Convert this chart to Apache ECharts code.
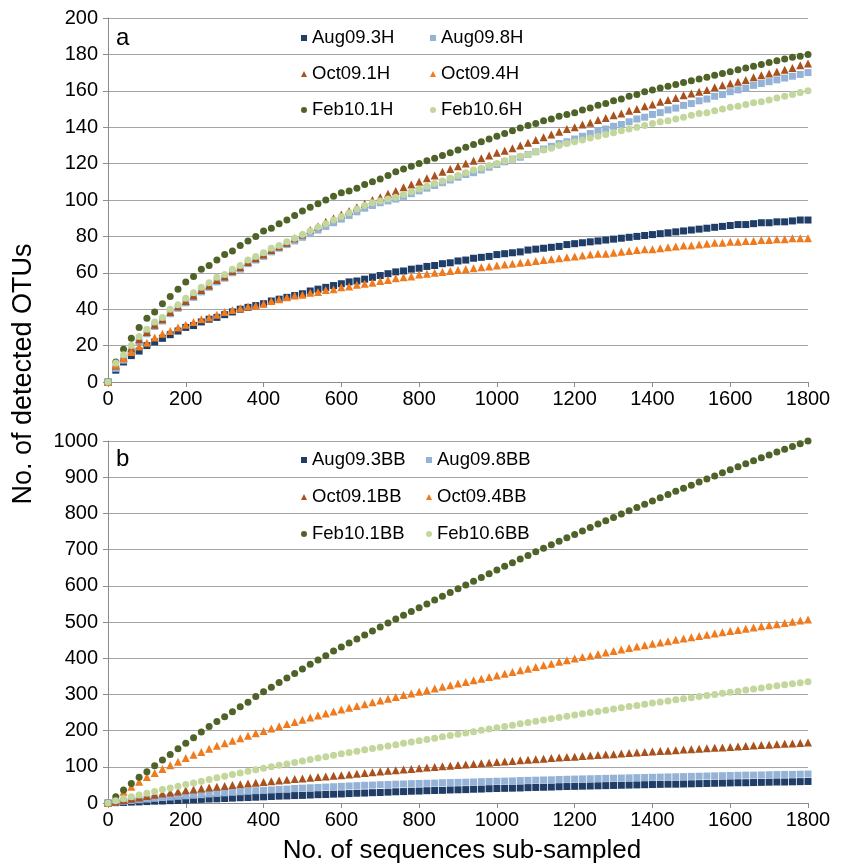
<!DOCTYPE html>
<html>
<head>
<meta charset="utf-8">
<title>Rarefaction curves</title>
<script src="https://cdn.jsdelivr.net/npm/echarts@6.0.0/dist/echarts.min.js"></script>
<style>
  html, body { margin: 0; padding: 0; background: #fff; }
  #chart { width: 844px; height: 864px; }
</style>
</head>
<body>
<div id="chart"></div>
<script>
// sub-sample sizes (x)
const sampleSizes = [
  0, 20, 40, 60, 80, 100, 120, 140, 160, 180,
  200, 220, 240, 260, 280, 300, 320, 340, 360, 380,
  400, 420, 440, 460, 480, 500, 520, 540, 560, 580,
  600, 620, 640, 660, 680, 700, 720, 740, 760, 780,
  800, 820, 840, 860, 880, 900, 920, 940, 960, 980,
  1000, 1020, 1040, 1060, 1080, 1100, 1120, 1140, 1160, 1180,
  1200, 1220, 1240, 1260, 1280, 1300, 1320, 1340, 1360, 1380,
  1400, 1420, 1440, 1460, 1480, 1500, 1520, 1540, 1560, 1580,
  1600, 1620, 1640, 1660, 1680, 1700, 1720, 1740, 1760, 1780,
  1800
];

// panel a
const aug093H = [
  0, 6.5, 11, 14.5, 17, 20, 22, 24, 26, 28,
  30, 31, 33, 34.5, 35.5, 37, 38.5, 40, 41, 42,
  43, 44.5, 45.5, 46.5, 47.5, 48.5, 50, 51, 52, 53,
  54, 55, 55.5, 56.5, 57.5, 58.5, 59.5, 60.5, 61, 62,
  62.5, 63.5, 64, 65, 65.5, 66.5, 67, 68, 68.5, 69,
  70, 70.5, 71, 71.5, 72.5, 73, 73.5, 74, 74.5, 75.5,
  76, 76.5, 77, 77.5, 78, 78.5, 79, 79.5, 80, 80.5,
  81, 81.5, 82, 82.5, 83, 83.5, 84, 84.5, 85, 85.5,
  86, 86.5, 86.5, 87, 87.5, 87.5, 88, 88, 88.5, 89,
  89
];
const aug098H = [
  0, 7.5, 12, 17, 22, 26.5, 30.5, 33.5, 37.5, 40.5,
  43.5, 46.5, 49.5, 52, 55, 57, 60, 62, 65, 67,
  69, 71.5, 73.5, 75.5, 77.5, 79.5, 81.5, 83.5, 85.5, 87.5,
  89.5, 91.5, 93.5, 95.5, 97, 98.5, 99.5, 100.5, 102, 103.5,
  105, 106.5, 108, 109.5, 111, 112.5, 114, 115, 116.5, 118,
  119.5, 121, 122.5, 123.5, 125, 126.5, 128, 129.5, 131, 132,
  133.5, 135, 136.5, 138, 139, 140.5, 141.5, 143, 144.5, 145.5,
  147, 148, 149.5, 150.5, 152, 153, 154.5, 155.5, 157, 158,
  159.5, 160.5, 161.5, 163, 164, 165, 166, 167, 168, 169,
  170
];
const oct091H = [
  0, 9, 13.5, 18.5, 23.5, 27.5, 31.5, 34.5, 38.5, 41.5,
  44.5, 47.5, 50.5, 53, 56, 58, 61, 63, 66, 68,
  70, 72.5, 74.5, 76.5, 79, 81, 83.5, 85.5, 88, 90,
  92, 94, 96, 98, 100, 101.5, 103.5, 105, 107, 108.5,
  110, 112, 113.5, 115.5, 117, 118.5, 120, 121.5, 123, 124.5,
  126, 127, 128.5, 130, 131.5, 133, 134.5, 136, 137.5, 139,
  140, 141.5, 142.5, 144, 145, 146.5, 147.5, 149, 150, 151.5,
  152.5, 154, 155, 156, 157.5, 158.5, 159.5, 160.5, 162, 163,
  164, 165, 166, 167.5, 168.5, 169.5, 170.5, 171.5, 172.5, 174,
  175
];
const oct094H = [
  0, 9.5, 13, 16.5, 19.5, 21.5, 24.5, 26.5, 28, 30,
  31.5, 33, 34.5, 35.5, 37, 38.5, 39.5, 40.5, 41.5, 42,
  43, 44.5, 45.5, 46.5, 47.5, 48, 49, 49.5, 50.5, 51,
  52, 52.5, 53.5, 54, 54.5, 55.5, 56, 57, 57.5, 58,
  59, 59.5, 60, 60.5, 61, 61.5, 62, 62.5, 63, 63.5,
  64, 64.5, 65, 65.5, 66, 66.5, 67, 67.5, 68, 68.5,
  69, 69.5, 70, 70.5, 70.5, 71, 71.5, 72, 72.5, 73,
  73, 73.5, 74, 74.5, 75, 75, 75.5, 76, 76.5, 76.5,
  77, 77, 77.5, 77.5, 78, 78, 78.5, 78.5, 79, 79,
  79
];
const feb101H = [
  0, 11, 18, 24, 30, 35, 38.5, 43, 47, 51,
  55, 58, 62, 64, 67, 70, 72, 75, 77.5, 80,
  83, 84.5, 87, 89, 91.5, 94, 96, 98, 100, 102,
  104, 105, 106.5, 108.5, 110, 111.5, 113.5, 115.5, 117, 118.5,
  120, 121.5, 123, 124.5, 126, 127.5, 129, 130.5, 132, 133.5,
  135, 136.5, 138, 139.5, 141, 142, 143.5, 144.5, 146, 147,
  148, 149.5, 150.5, 152, 153, 154.5, 155.5, 157, 158, 159.5,
  160.5, 161.5, 162.5, 163.5, 164.5, 165.5, 166.5, 167.5, 168.5, 169.5,
  170.5, 171.5, 172.5, 173.5, 174.5, 175.5, 176.5, 177.5, 178.5, 179,
  180
];
const feb106H = [
  0, 10.5, 15, 20, 25, 29, 33, 35.5, 40, 42.5,
  46, 49, 52, 54.5, 57.5, 59, 62, 64, 67, 69,
  71, 73.5, 75, 77, 79, 81, 83, 85, 87, 89,
  91, 93, 95, 97, 98.5, 99.5, 100.5, 101.5, 103, 104.5,
  106, 107.5, 109, 110.5, 112, 113.5, 115, 116.5, 117.5, 119,
  120, 121.5, 122.5, 124, 125, 126.5, 127.5, 128.5, 130, 131,
  132, 133, 134, 135, 136, 137, 138, 139, 140, 141,
  142, 143, 143.5, 144.5, 145.5, 146.5, 147.5, 148, 149, 150,
  151, 151.5, 152.5, 153.5, 154, 155, 156, 157, 158, 159,
  160
];

// panel b
const aug093BB = [
  0, 1, 1.5, 2.5, 3, 4, 5, 5.5, 6.5, 7,
  8, 9, 10, 11, 11.5, 12.5, 13.5, 14.5, 15, 16,
  17, 18, 19, 19.5, 20.5, 21, 22, 23, 23.5, 24.5,
  25, 26, 27, 27.5, 28.5, 29, 30, 31, 31.5, 32.5,
  33, 34, 34.5, 35, 36, 36.5, 37, 38, 38.5, 39.5,
  40, 40.5, 41, 41.5, 42.5, 43, 43.5, 44, 45, 45.5,
  46, 46.5, 47, 47.5, 48, 48.5, 49, 49.5, 50, 50.5,
  51, 51.5, 52, 52, 52.5, 53, 53.5, 54, 54.5, 55,
  55.5, 56, 56, 56.5, 57, 57.5, 58, 58, 58.5, 59,
  59.5
];
const aug098BB = [
  0, 2.5, 5, 7, 9, 11, 13, 15, 16.5, 18.5,
  20, 21.5, 23, 25, 26.5, 28, 29.5, 31, 32.5, 34,
  35, 36, 37.5, 38.5, 40, 41, 42, 43, 44, 45,
  46, 47, 48, 49, 49.5, 50.5, 51, 52, 52.5, 53.5,
  54, 54.5, 55, 56, 56.5, 57, 57.5, 58, 59, 59.5,
  60, 60.5, 61, 62, 62.5, 63, 63.5, 64, 65, 65.5,
  66, 66.5, 67, 67.5, 68, 68.5, 69, 69.5, 70, 70.5,
  71, 71.5, 72, 72.5, 73, 73.5, 74, 74.5, 75, 75.5,
  76, 76.5, 77, 77, 77.5, 78, 78.5, 79, 79, 79.5,
  80
];
const oct091BB = [
  0, 4, 8, 12, 15.5, 19, 22.5, 26, 29, 32,
  35, 37.5, 40, 42.5, 45, 47, 49.5, 51.5, 54, 56,
  58, 60, 62, 64, 66, 68, 70, 72, 73.5, 75.5,
  77, 79, 81, 83, 85, 87, 89, 90.5, 92.5, 94,
  96, 98, 99.5, 101.5, 103, 105, 106.5, 108, 110, 111.5,
  113, 114.5, 116, 118, 119.5, 121, 122.5, 124, 125.5, 127,
  128, 129.5, 131, 132.5, 134, 135, 136.5, 138, 139.5, 141,
  142, 143.5, 144.5, 146, 147.5, 148.5, 150, 151, 152.5, 153.5,
  155, 156, 157.5, 158.5, 160, 161, 162, 163.5, 164.5, 166,
  167
];
const oct094BB = [
  0, 16, 31, 45, 59, 72, 83, 94, 104, 114,
  124, 133, 141, 150, 158, 165, 172, 179, 186, 193,
  199, 205.5, 212, 218, 224, 230, 236, 241.5, 247, 252.5,
  258, 263, 268, 273, 278, 283, 288, 293, 298, 302.5,
  307, 311.5, 316, 321, 325.5, 330, 334.5, 339, 343.5, 348,
  352, 357, 362, 366.5, 371, 376, 380.5, 385, 390, 394.5,
  399, 403, 407, 411.5, 415.5, 420, 424, 428, 432, 436,
  440, 443.5, 447, 451, 454.5, 458, 461.5, 465, 468.5, 471.5,
  475, 478, 481.5, 484.5, 488, 491, 494, 497.5, 500.5, 504,
  507
];
const feb101BB = [
  0, 17.5, 36, 54, 71, 86, 103, 119, 134, 150,
  165, 180, 196, 211, 225, 238, 252, 266, 278, 294,
  307, 320, 333, 345, 358, 370, 383, 395, 407, 420,
  431, 442, 453, 464, 475, 486.5, 497.5, 508, 518.5, 529,
  539.5, 550, 560.5, 571, 581.5, 592, 602.5, 612.5, 623, 633,
  643.5, 654, 664, 674, 684, 694, 704, 713.5, 723, 732.5,
  742, 751.5, 761, 770.5, 780, 789, 798, 807, 816, 825,
  834, 843, 852, 861, 869.5, 878, 886.5, 895, 903.5, 912,
  920.5, 929, 937.5, 945.5, 953.5, 961.5, 969.5, 977, 985, 992.5,
  1000
];
const feb106BB = [
  0, 6, 11.5, 17, 22, 27, 32, 37, 41.5, 46,
  51, 55.5, 60, 65, 69.5, 74, 78.5, 83, 87.5, 92,
  96, 100, 104, 108, 112, 116, 120, 124, 128, 132,
  136, 139.5, 143, 147, 150.5, 154, 157.5, 161, 165, 168.5,
  172, 175.5, 179, 183, 186.5, 190, 193.5, 197, 201, 204.5,
  208, 211.5, 215, 219, 222.5, 226, 229.5, 233, 236.5, 239.5,
  243, 246.5, 250, 253, 256.5, 260, 263, 266.5, 269.5, 273,
  276, 279, 282, 285, 288, 291, 294, 297, 300, 303,
  306, 309, 312, 315, 318, 321, 324, 326.5, 329.5, 332,
  335
];

const FONT = "'Liberation Sans', Arial, Helvetica, sans-serif";
const AXIS_GRAY = "#8c8c8c";
const GRID_GRAY = "#a4a4a4";

const NAVY = "#1f3d66";
const LIGHT_BLUE = "#95b3d7";
const BROWN = "#a9511c";
const ORANGE = "#f07a1e";
const DARK_GREEN = "#4f6228";
const LIGHT_GREEN = "#c3d69b";

// series definitions: [name, values, symbol, color]
const panelA = [
  ["Aug09.3H", aug093H, "rect", NAVY],
  ["Aug09.8H", aug098H, "rect", LIGHT_BLUE],
  ["Oct09.1H", oct091H, "triangle", BROWN],
  ["Oct09.4H", oct094H, "triangle", ORANGE],
  ["Feb10.1H", feb101H, "circle", DARK_GREEN],
  ["Feb10.6H", feb106H, "circle", LIGHT_GREEN],
];
const panelB = [
  ["Aug09.3BB", aug093BB, "rect", NAVY],
  ["Aug09.8BB", aug098BB, "rect", LIGHT_BLUE],
  ["Oct09.1BB", oct091BB, "triangle", BROWN],
  ["Oct09.4BB", oct094BB, "triangle", ORANGE],
  ["Feb10.1BB", feb101BB, "circle", DARK_GREEN],
  ["Feb10.6BB", feb106BB, "circle", LIGHT_GREEN],
];

const symbolSize = { rect: 7, triangle: 8, circle: 7 };

function makeSeries(def, gridIndex) {
  const [name, values, symbol, color] = def;
  return {
    name,
    type: "scatter",
    xAxisIndex: gridIndex,
    yAxisIndex: gridIndex,
    symbol,
    symbolSize: symbolSize[symbol],
    itemStyle: { color, opacity: 1 },
    emphasis: { disabled: true },
    data: sampleSizes.map((x, i) => [x, values[i]]),
  };
}

// legends: two columns, three rows per panel
function makeLegends(defs, cols, rows) {
  return defs.map((def, i) => ({
    data: [{ name: def[0], icon: def[2] }],
    left: cols[i % 2],
    top: rows[Math.floor(i / 2)] - 10,
    padding: 0,
    itemWidth: 6,
    itemHeight: 6,
    selectedMode: false,
    textStyle: { fontSize: 18.5, color: "#000", fontFamily: FONT, lineHeight: 20 },
  }));
}

const plainNumber = (v) => String(v);

function makeXAxis(gridIndex) {
  return {
    type: "value",
    gridIndex,
    min: 0,
    max: 1800,
    interval: 200,
    axisLine: { show: true, onZero: false, lineStyle: { color: AXIS_GRAY, width: 1 } },
    axisTick: { show: true, length: 5, lineStyle: { color: AXIS_GRAY } },
    axisLabel: { fontSize: 20, color: "#000", fontFamily: FONT, margin: 7, formatter: plainNumber },
    splitLine: { show: false },
  };
}

function makeYAxis(gridIndex, max, interval) {
  return {
    type: "value",
    gridIndex,
    min: 0,
    max,
    interval,
    axisLine: { show: true, lineStyle: { color: AXIS_GRAY, width: 1 } },
    axisTick: { show: true, length: 5, lineStyle: { color: AXIS_GRAY } },
    axisLabel: { fontSize: 20, color: "#000", fontFamily: FONT, margin: 10, formatter: plainNumber },
    splitLine: { show: true, lineStyle: { color: GRID_GRAY, width: 1 } },
  };
}

const chart = echarts.init(document.getElementById("chart"), null, { renderer: "canvas" });

chart.setOption({
  animation: false,
  backgroundColor: "#fff",
  grid: [
    { left: 108, top: 18, width: 700, height: 364 },
    { left: 108, top: 441, width: 700, height: 362 },
  ],
  xAxis: [makeXAxis(0), makeXAxis(1)],
  yAxis: [makeYAxis(0, 200, 20), makeYAxis(1, 1000, 100)],
  legend: [
    ...makeLegends(panelA, [301, 430], [38, 74, 110]),
    ...makeLegends(panelB, [301, 426], [460, 497, 534]),
  ],
  graphic: [
    { type: "text", x: 116, y: 38, style: { text: "a", font: "24px " + FONT, fill: "#000", textVerticalAlign: "middle" } },
    { type: "text", x: 116, y: 459, style: { text: "b", font: "24px " + FONT, fill: "#000", textVerticalAlign: "middle" } },
    {
      type: "text", x: 24, y: 374, rotation: Math.PI / 2,
      style: { text: "No. of detected OTUs", font: "27px " + FONT, fill: "#000", textAlign: "center", textVerticalAlign: "middle" },
    },
    {
      type: "text", x: 462, y: 851,
      style: { text: "No. of sequences sub-sampled", font: "26px " + FONT, fill: "#000", textAlign: "center", textVerticalAlign: "middle" },
    },
  ],
  series: [
    ...panelA.map((d) => makeSeries(d, 0)),
    ...panelB.map((d) => makeSeries(d, 1)),
  ],
});
</script>
</body>
</html>
